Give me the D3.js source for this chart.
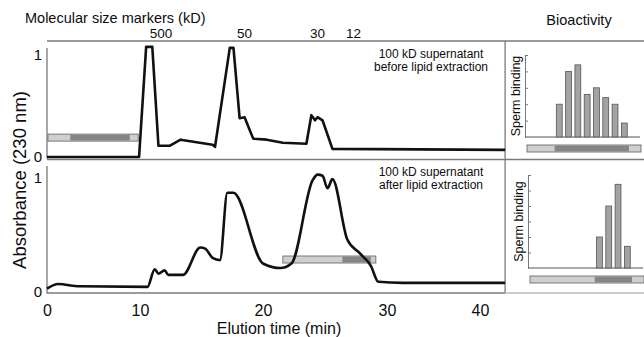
<!DOCTYPE html>
<html>
<head>
<meta charset="utf-8">
<script src="https://cdn.jsdelivr.net/npm/d3@7"></script>
<style>
  body { margin: 0; background: #fff; }
  text { font-family: "Liberation Sans", Arial, sans-serif; fill: #0d0d0d; }
</style>
</head>
<body>
<div id="plot"></div>
<script>
  // elution profiles, time (min) vs absorbance (230 nm)
  const timeTicks = [0, 10, 20, 30, 40];
  const endTime = 42.7;

  const beforeTime = [0, 9.9, 10.5, 11.0, 11.5, 12.4, 13.3, 15.9, 16.1, 17.3, 17.6, 18.1, 18.5, 19.2, 20.3, 21.6, 23.5, 23.9, 24.2, 24.4, 24.8, 25.6, 42.7];
  const beforeAbs  = [0, 0, 1.08, 1.08, 0.11, 0.11, 0.17, 0.12, 0.10, 1.07, 1.07, 0.38, 0.39, 0.18, 0.17, 0.14, 0.13, 0.41, 0.36, 0.39, 0.36, 0.08, 0.07];

  const afterTime = [0, 1.2, 3.5, 10.6, 11.2, 11.5, 12.0, 12.3, 13.5, 14.9, 15.3, 15.9, 16.5, 17.1, 17.6, 20.0, 21.4, 22.3, 24.0, 24.4, 24.8, 25.2, 25.6, 26.8, 27.8, 28.7, 29.3, 31.7, 42.7];
  const afterAbs  = [0.03, 0.07, 0.05, 0.045, 0.20, 0.16, 0.19, 0.15, 0.15, 0.39, 0.38, 0.30, 0.28, 0.87, 0.87, 0.25, 0.21, 0.25, 0.98, 1.03, 1.02, 0.91, 0.99, 0.46, 0.34, 0.23, 0.09, 0.08, 0.08];

  const markerLabels = ["500", "50", "30", "12"];
  const markerTimes = [11.7, 18.5, 24.4, 27.3];

  // pooled fractions marked on the chromatograms (min)
  const beforePool = [0.1, 9.8];
  const beforePoolActive = [2.5, 8.9];
  const afterPool = [21.6, 29.1];
  const afterPoolActive = [26.4, 28.7];

  // sperm binding per fraction
  const fractions = [1, 2, 3, 4, 5, 6, 7, 8, 9, 10, 11, 12];
  const bindingBefore = [0, 0, 0, 2.0, 4.0, 4.4, 2.6, 3.0, 2.4, 2.0, 0.85, 0];
  const bindingAfter  = [0, 0, 0, 0, 0, 0, 0, 2.0, 4.0, 5.4, 1.4, 0];
  const activeBefore = [4, 11];
  const activeAfter = [8, 11];

  const w = 644, h = 337;
  const frameColor = "#7a7a7a";
  const lightGray = "#cfcfcf", darkGray = "#858585";

  const svg = d3.select("div#plot")
      .append("svg")
      .attr("width", w)
      .attr("height", h);

  // the published axis is not evenly spaced, so use a piecewise scale
  const x = d3.scaleLinear()
      .domain(timeTicks)
      .range([47, 140, 263, 387, 480]);

  const panels = [
    {time: beforeTime, abs: beforeAbs, pool: beforePool, active: beforePoolActive,
     y: d3.scaleLinear().domain([0, 1]).range([157, 55]), poolLevel: 0.19, axisTop: 48,
     curve: d3.curveLinear,
     title: ["100 kD supernatant", "before lipid extraction"], titleY: 58,
     binding: bindingBefore, activeFr: activeBefore,
     yBio: d3.scaleLinear().domain([0, 5]).range([137, 55]),
     xBio: d3.scaleBand().domain(fractions).range([525, 640]).padding(0.37)},
    {time: afterTime, abs: afterAbs, pool: afterPool, active: afterPoolActive,
     y: d3.scaleLinear().domain([0, 1]).range([292, 178]), poolLevel: 0.285, axisTop: 166,
     curve: d3.curveMonotoneX,
     title: ["100 kD supernatant", "after lipid extraction"], titleY: 176,
     binding: bindingAfter, activeFr: activeAfter,
     yBio: d3.scaleLinear().domain([0, 6]).range([268, 175]),
     xBio: d3.scaleBand().domain(fractions).range([528, 643]).padding(0.37)}
  ];

  // frame lines
  const frame = svg.append("g")
      .attr("stroke", frameColor)
      .attr("stroke-width", 1.3);
  frame.append("line").attr("x1", x(0)).attr("x2", w).attr("y1", 41).attr("y2", 41);
  frame.append("line").attr("x1", x(0)).attr("x2", w).attr("y1", 159.5).attr("y2", 159.5);
  frame.append("line").attr("x1", x(endTime)).attr("x2", x(endTime)).attr("y1", 41).attr("y2", 293);
  frame.append("line").attr("x1", x(endTime)).attr("x2", w).attr("y1", 293).attr("y2", 293)
      .attr("stroke", "#bbb");

  // titles
  svg.append("text")
      .attr("x", 25).attr("y", 23)
      .style("font-size", "14.5px")
      .text("Molecular size markers (kD)");

  svg.append("text")
      .attr("x", 579).attr("y", 25)
      .attr("text-anchor", "middle")
      .style("font-size", "14.5px")
      .text("Bioactivity");

  svg.selectAll("text.marker")
    .data(markerLabels)
    .enter().append("text")
      .attr("class", "marker")
      .attr("x", (d, i) => x(markerTimes[i]))
      .attr("y", 38)
      .attr("text-anchor", "middle")
      .style("font-size", "13.5px")
      .text(d => d);

  panels.forEach(p => {
    // y axis of chromatogram
    const yAxis = svg.append("g")
        .attr("transform", `translate(${x(0)}, 0)`)
        .call(d3.axisLeft(p.y).tickValues([0, 1]).tickFormat(d3.format("d")).tickSize(0).tickPadding(5));
    yAxis.select(".domain").remove();
    yAxis.selectAll("text").style("font-size", "15px").attr("fill", "#0d0d0d");
    svg.append("line")
        .attr("x1", x(0)).attr("x2", x(0))
        .attr("y1", p.axisTop).attr("y2", p.y(0) + 1.5)
        .attr("stroke", frameColor).attr("stroke-width", 1.3);

    // pooled fraction bar
    const py = p.y(p.poolLevel) - 3.5;
    svg.append("rect")
        .attr("x", x(p.pool[0])).attr("y", py)
        .attr("width", x(p.pool[1]) - x(p.pool[0])).attr("height", 7)
        .attr("fill", lightGray).attr("stroke", "#6e6e6e").attr("stroke-width", 0.9);
    svg.append("rect")
        .attr("x", x(p.active[0])).attr("y", py + 0.6)
        .attr("width", x(p.active[1]) - x(p.active[0])).attr("height", 5.8)
        .attr("fill", darkGray);

    // elution profile
    const line = d3.line()
        .x(i => x(p.time[i]))
        .y(i => p.y(p.abs[i]))
        .curve(p.curve);
    svg.append("path")
        .datum(d3.range(p.time.length))
        .attr("d", line)
        .attr("fill", "none")
        .attr("stroke", "#111")
        .attr("stroke-width", 2.6)
        .attr("stroke-linejoin", "round");

    // sample label
    svg.append("text")
        .attr("x", 431).attr("y", p.titleY)
        .attr("text-anchor", "middle")
        .style("font-size", "12px")
      .selectAll("tspan")
      .data(p.title)
      .enter().append("tspan")
        .attr("x", 431)
        .attr("dy", (d, i) => i === 0 ? 0 : 13)
        .text(d => d);

    // bioactivity panel
    const x0 = p.xBio.range()[0];
    const bioAxis = svg.append("g")
        .attr("transform", `translate(${x0}, 0)`)
        .call(d3.axisRight(p.yBio).tickValues(d3.range(1, p.yBio.domain()[1] + 1))
              .tickFormat("").tickSize(3).tickSizeOuter(0));
    bioAxis.selectAll("path, line").attr("stroke", frameColor);

    svg.append("line")
        .attr("x1", x0).attr("x2", p.xBio.range()[1])
        .attr("y1", p.yBio(0)).attr("y2", p.yBio(0))
        .attr("stroke", "#555").attr("stroke-width", 1.2);

    svg.selectAll(null)
      .data(fractions.filter((f, i) => p.binding[i] > 0))
      .enter().append("rect")
        .attr("x", f => p.xBio(f))
        .attr("y", f => p.yBio(p.binding[f - 1]))
        .attr("width", p.xBio.bandwidth())
        .attr("height", f => p.yBio(0) - p.yBio(p.binding[f - 1]))
        .attr("fill", "#a3a3a3")
        .attr("stroke", "#555")
        .attr("stroke-width", 0.8);

    // fraction strip under the bars, active fractions darker
    const step = p.xBio.step();
    const gap = (step - p.xBio.bandwidth()) / 2;
    const fy = p.yBio(0) + 8;
    svg.append("rect")
        .attr("x", x0 + 2).attr("y", fy)
        .attr("width", p.xBio.range()[1] - x0 - 1).attr("height", 7)
        .attr("fill", lightGray).attr("stroke", "#6e6e6e").attr("stroke-width", 0.9);
    svg.append("rect")
        .attr("x", p.xBio(p.activeFr[0]) - gap)
        .attr("y", fy + 0.6)
        .attr("width", (p.activeFr[1] - p.activeFr[0] + 1) * step)
        .attr("height", 5.8)
        .attr("fill", darkGray);

    svg.append("text")
        .attr("transform", `translate(${x0 - 5}, ${(p.yBio.range()[0] + p.yBio.range()[1]) / 2}) rotate(-90)`)
        .attr("text-anchor", "middle")
        .style("font-size", "12.5px")
        .text("Sperm binding");
  });

  // x axis
  const xAxis = svg.append("g")
      .attr("transform", `translate(0, ${293})`)
      .call(d3.axisBottom(x).tickValues(timeTicks).tickSize(0).tickPadding(12));
  xAxis.select(".domain").remove();
  xAxis.selectAll("text").style("font-size", "16px").attr("fill", "#0d0d0d");
  svg.append("line")
      .attr("x1", x(0)).attr("x2", x(endTime))
      .attr("y1", 293).attr("y2", 293)
      .attr("stroke", frameColor).attr("stroke-width", 1.3);

  svg.append("text")
      .attr("x", 279).attr("y", 334)
      .attr("text-anchor", "middle")
      .style("font-size", "16px")
      .text("Elution time (min)");

  svg.append("text")
      .attr("transform", "translate(26, 180) rotate(-90)")
      .attr("text-anchor", "middle")
      .style("font-size", "18.5px")
      .text("Absorbance (230 nm)");
</script>
</body>
</html>
